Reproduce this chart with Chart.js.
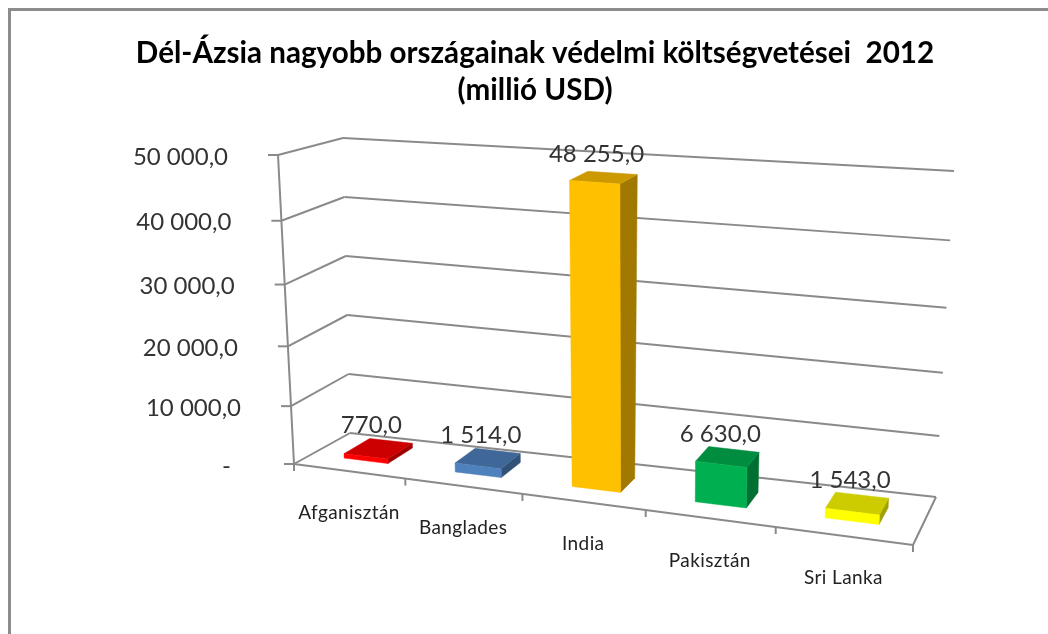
<!DOCTYPE html>
<html lang="hu">
<head>
<meta charset="utf-8">
<title>Dél-Ázsia védelmi költségvetései 2012</title>
<script src="https://cdn.jsdelivr.net/npm/chart.js@4"></script>
<style>
html,body{margin:0;padding:0;background:#fff;overflow:hidden;width:1048px;height:634px}
#frame{position:absolute;left:8px;top:8px;width:1060px;height:660px;border:3px solid #8c8c8c;box-sizing:border-box}
#c{position:absolute;left:0;top:0}
</style>
</head>
<body>
<div id="frame"></div>
<canvas id="c" width="1048" height="634"></canvas>
<script>
// --- data ---
const categories = ['Afganisztán', 'Banglades', 'India', 'Pakisztán', 'Sri Lanka'];
const budgets = [770, 1514, 48255, 6630, 1543];
const barColors = ['#FF0000', '#4F81BD', '#FFC000', '#00B050', '#FFFF00'];
const titleLines = ['Dél-Ázsia nagyobb országainak védelmi költségvetései  2012', '(millió USD)'];
const axisMax = 50000;
const axisStep = 10000;

// --- look of the oblique box the flat scales are projected into ---
const box = {
  fbl: [294, 464], fbr: [913, 545], ftl: [278, 155], ftr: [921, 205],
  bbl: [350, 433], bbr: [936, 497], btl: [343, 138], btr: [954, 171]
};
const perspectiveK = 1.14, verticalBow = 0.08, barDepthFront = 0.32, barDepthBack = 0.68;
const lineColor = '#8a8a8a', textColor = '#333333';

const mix = (a, b, t) => [a[0] + (b[0] - a[0]) * t, a[1] + (b[1] - a[1]) * t];
function project(chart, px, py, depth) {
  const area = chart.chartArea;
  const raw = (px - area.left) / (area.right - area.left);
  const u = raw / (raw + perspectiveK * (1 - raw));
  const flat = (area.bottom - py) / (area.bottom - area.top);
  const v = flat - verticalBow * (1 - (1 - u) * depth) * flat * (1 - flat);
  const frontB = mix(box.fbl, box.fbr, u), frontT = mix(box.ftl, box.ftr, u);
  const backB = mix(box.bbl, box.bbr, u), backT = mix(box.btl, box.btr, u);
  return mix(mix(frontB, frontT, v), mix(backB, backT, v), depth);
}
function backDepthAt(chart, px) {
  const area = chart.chartArea;
  const raw = (px - area.left) / (area.right - area.left);
  return barDepthBack + 0.14 * Math.max(0, 1 - raw / 0.5);
}
function formatValue(v) {
  if (v === 0) return '-';
  const s = Math.round(v).toString().replace(/\B(?=(\d{3})+$)/g, ' ');
  return s + ',0';
}
function shade(hex, f) {
  const n = parseInt(hex.slice(1), 16);
  const c = [n >> 16, (n >> 8) & 255, n & 255].map(x => Math.round(x * f));
  return `rgb(${c[0]},${c[1]},${c[2]})`;
}
function poly(ctx, pts, fill) {
  ctx.beginPath();
  pts.forEach((p, i) => i ? ctx.lineTo(p[0], p[1]) : ctx.moveTo(p[0], p[1]));
  ctx.closePath();
  ctx.fillStyle = fill;
  ctx.fill();
  ctx.strokeStyle = fill;
  ctx.lineWidth = 0.5;
  ctx.stroke();
}
function seg(ctx, a, b) {
  ctx.beginPath(); ctx.moveTo(a[0], a[1]); ctx.lineTo(b[0], b[1]); ctx.stroke();
}

const oblique = {
  id: 'oblique',
  beforeDatasetsDraw(chart) {
    const { ctx, chartArea: a, scales: { x, y } } = chart;
    ctx.save();
    ctx.strokeStyle = lineColor;
    ctx.lineWidth = 2;
    ctx.lineJoin = 'round';
    // value axis, walls, gridlines
    seg(ctx, project(chart, a.left, y.getPixelForValue(0), 0), project(chart, a.left, y.getPixelForValue(axisMax), 0));
    y.ticks.forEach(t => {
      const py = y.getPixelForValue(t.value);
      const f = project(chart, a.left, py, 0);
      const bl = project(chart, a.left, py, 1);
      const br = project(chart, a.right, py, 1);
      seg(ctx, [f[0] - 10, f[1]], f);
      seg(ctx, f, bl);
      seg(ctx, bl, br);
    });
    // floor
    const py0 = y.getPixelForValue(0);
    seg(ctx, project(chart, a.left, py0, 0), project(chart, a.right, py0, 0));
    seg(ctx, project(chart, a.right, py0, 0), project(chart, a.right, py0, 1));
    // category tick marks between categories
    const step = (a.right - a.left) / categories.length;
    for (let i = 0; i <= categories.length; i++) {
      const p = project(chart, a.left + i * step, py0, 0);
      seg(ctx, p, [p[0], p[1] + 7]);
    }
    // axis text
    ctx.fillStyle = textColor;
    ctx.font = '24px Lato';
    ctx.textBaseline = 'middle';
    ctx.textAlign = 'right';
    y.ticks.forEach(t => {
      const py = y.getPixelForValue(t.value);
      const f = project(chart, a.left, py, 0);
      const tx = t.value === 0 ? f[0] - 63 : f[0] - 50;
      ctx.fillText(t.label, tx, f[1] + 2);
    });
    ctx.font = '19px Lato';
    ctx.letterSpacing = '0.4px';
    ctx.fillStyle = '#222222';
    ctx.textAlign = 'center';
    categories.forEach((c, i) => {
      const p = project(chart, x.getPixelForValue(i), py0, 0);
      ctx.fillText(c, p[0], p[1] + 42);
    });
    ctx.letterSpacing = '0px';
    ctx.restore();

    // bars are the library's own elements, painted through the projection
    chart.getDatasetMeta(0).data.forEach(el => {
      el.draw = function (c) {
        const col = this.options.backgroundColor;
        const l = this.x - this.width / 2, r = this.x + this.width / 2;
        const P = (px, py, d) => project(chart, px, py, d);
        const d0 = barDepthFront, d1 = backDepthAt(chart, this.x);
        poly(c, [P(r, this.base, d0), P(r, this.base, d1), P(r, this.y, d1), P(r, this.y, d0)], shade(col, 0.63));
        poly(c, [P(l, this.y, d0), P(r, this.y, d0), P(r, this.y, d1), P(l, this.y, d1)], shade(col, 0.8));
        poly(c, [P(l, this.base, d0), P(r, this.base, d0), P(r, this.y, d0), P(l, this.y, d0)], col);
      };
    });
  },
  afterDatasetsDraw(chart) {
    const { ctx } = chart;
    const meta = chart.getDatasetMeta(0);
    ctx.save();
    ctx.fillStyle = textColor;
    ctx.font = '24px Lato';
    ctx.textAlign = 'center';
    ctx.textBaseline = 'middle';
    meta.data.forEach((el, i) => {
      const p = project(chart, el.x, el.y, (barDepthFront + backDepthAt(chart, el.x)) / 2);
      ctx.fillText(formatValue(budgets[i]), p[0] - 7, p[1] - 23);
    });
    ctx.restore();
  }
};

new Chart(document.getElementById('c'), {
  type: 'bar',
  data: {
    labels: categories,
    datasets: [{ data: budgets, backgroundColor: barColors, barPercentage: 0.4, categoryPercentage: 1, clip: false }]
  },
  plugins: [oblique],
  options: {
    responsive: false,
    animation: false,
    events: [],
    layout: { padding: { left: 22, right: 0, top: 35, bottom: 161 } },
    plugins: {
      legend: { display: false },
      tooltip: { enabled: false },
      title: {
        display: true,
        text: titleLines,
        color: '#000000',
        font: { family: 'Lato', size: 29.6, weight: 'bold', lineHeight: 1.25 },
        padding: { top: 0, bottom: 48 }
      }
    },
    scales: {
      x: { grid: { display: false }, border: { display: false }, ticks: { display: false } },
      y: {
        min: 0, max: axisMax,
        grid: { display: false }, border: { display: false },
        ticks: { display: false, stepSize: axisStep, callback: formatValue }
      }
    }
  }
});
</script>
</body>
</html>
